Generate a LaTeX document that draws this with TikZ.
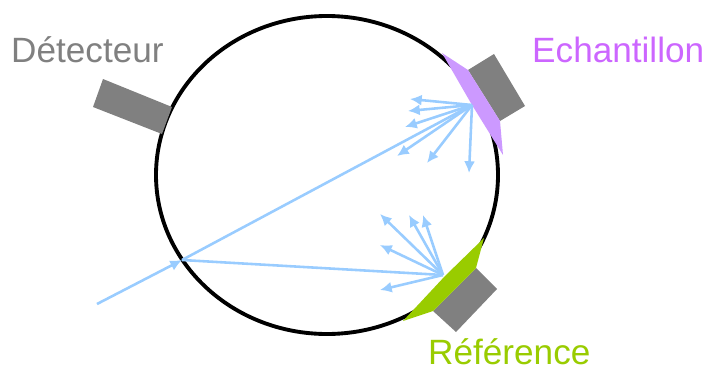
\documentclass[tikz,border=0pt]{standalone}
\usepackage{fontspec}
\setmainfont{Liberation Sans}
\usepackage{tikz}
\usetikzlibrary{arrows.meta}

\definecolor{holdergray}{RGB}{128,128,128}
\definecolor{rayblue}{RGB}{153,204,255}
\definecolor{samplepurple}{RGB}{204,153,255}
\definecolor{samplelabel}{RGB}{204,102,255}
\definecolor{refgreen}{RGB}{153,204,0}

\begin{document}
\begin{tikzpicture}[x=0.03cm,y=-0.03cm]
\tikzset{ray/.style={rayblue,line width=2.2pt}}
\tikzset{tip/.style={ray,-{Latex[length=10pt,width=9.5pt]}}}
\tikzset{lab/.style={font=\fontsize{30pt}{30pt}\selectfont,inner sep=0pt,anchor=base west}}
\tikzset{holder/.style={fill=holdergray,draw=none}}

\useasboundingbox (0,0) rectangle (708,367);

\draw[line width=3.3pt] (327,175) ellipse (171 and 159);

\fill[holder] (103,79) -- (172,107) -- (162,134) -- (93,107) -- cycle;
\fill[holder] (468,70) -- (494,54) -- (525,106) -- (500,121) -- cycle;
\fill[holder] (433,311) -- (476,268) -- (497,289) -- (456,332) -- cycle;

\fill[samplepurple] (442,53) -- (468,70) -- (500,121) -- (503,155) -- (472,105) -- cycle;
\fill[refgreen] (403,321) -- (433,311) -- (476,268) -- (484,238) -- (445,276) -- cycle;

\path (97,304) coordinate (in);
\path (182,260) coordinate (m);
\path (472,105) coordinate (e);
\path (443,275) coordinate (r);

\path (410,99) coordinate (e1);
\path (408,111) coordinate (e2);
\path (405,127) coordinate (e3);
\path (397,156) coordinate (e4);
\path (427,163) coordinate (e5);
\path (469,173) coordinate (e6);

\path (380,214) coordinate (r1);
\path (409,215) coordinate (r2);
\path (423,215) coordinate (r3);
\path (380,245) coordinate (r4);
\path (380,290) coordinate (r5);

\draw[tip] (in) -- (m);
\draw[ray] (m) -- (e);
\draw[ray] (m) -- (r);

\foreach \i in {1,...,6} {
  \draw[tip] (e) -- (e\i);
}
\foreach \i in {1,...,5} {
  \draw[tip] (r) -- (r\i);
}

\node[lab,text=holdergray] (det) at (11,62) {Détecteur};
\node[lab,text=samplelabel] (ech) at (532,62) {Echantillon};
\node[lab,text=refgreen] (ref) at (428,364) {Référence};
\end{tikzpicture}
\end{document}
